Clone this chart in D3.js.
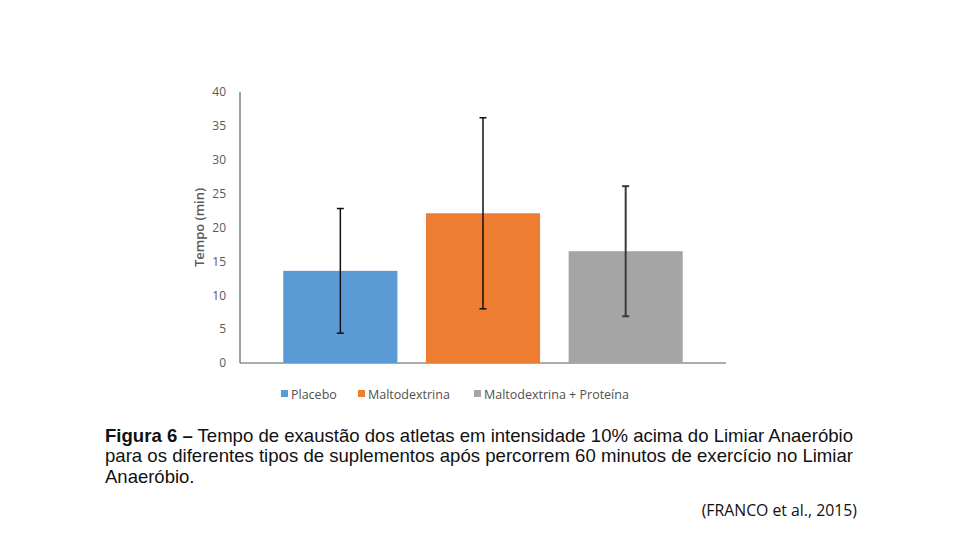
<!DOCTYPE html>
<html><head><meta charset="utf-8">
<script src="https://cdn.jsdelivr.net/npm/d3@7"></script>
<style>body{margin:0;background:#fff}svg{display:block}</style>
</head><body>
<script>
const categories = ["Placebo", "Maltodextrina", "Maltodextrina + Proteína"];
const means = [13.6, 22.1, 16.5];
const sds = [9.2, 14.1, 9.6];
const colors = ["#5B9BD5", "#ED7D31", "#A5A5A5"];
const yTicks = [0, 5, 10, 15, 20, 25, 30, 35, 40];
const yTitle = "Tempo (min)";
const captionLines = [
  ["Figura 6 \u2013", " Tempo de exaustão dos atletas em intensidade 10% acima do Limiar Anaeróbio"],
  ["", "para os diferentes tipos de suplementos após percorrem 60 minutos de exercício no Limiar"],
  ["", "Anaeróbio."]
];
const source = "(FRANCO et al., 2015)";

const svg = d3.select("body").append("svg").attr("width", 960).attr("height", 540);
const y = d3.scaleLinear().domain([0, 40]).range([363, 92]);
const x = d3.scaleBand().domain(categories).range([269, 697]).paddingInner(0.2).paddingOuter(0.1);

// axes lines
svg.append("line").attr("x1", 240).attr("x2", 240).attr("y1", y(40)).attr("y2", y(0)).attr("stroke", "#404040").attr("stroke-width", 1);
svg.append("line").attr("x1", 240).attr("x2", 726).attr("y1", y(0)).attr("y2", y(0)).attr("stroke", "#595959").attr("stroke-width", 1.2);

const yAxis = d3.axisLeft(y).tickValues(yTicks).tickSize(0).tickPadding(14);
const ga = svg.append("g").attr("transform", "translate(240,0)").call(yAxis);
ga.select(".domain").remove();
ga.selectAll("text").attr("fill", "#595959").style("font-family", "'Open Sans', sans-serif").style("font-size", "12px");

svg.append("text").attr("transform", `translate(204,${y(20)}) rotate(-90)`).attr("text-anchor", "middle")
  .attr("fill", "#595959").style("font-family", "'Open Sans', sans-serif").style("font-size", "13px").style("font-weight", "600")
  .text(yTitle);

// bars
svg.selectAll("rect.bar").data(categories).join("rect").attr("class", "bar")
  .attr("x", d => x(d)).attr("width", x.bandwidth())
  .attr("y", (d, i) => y(means[i])).attr("height", (d, i) => y(0) - y(means[i]))
  .attr("fill", (d, i) => colors[i]);

// error bars
const eb = svg.selectAll("g.err").data(categories).join("g").attr("class", "err")
  .attr("stroke", (d, i) => i === 2 ? "#3a3a3a" : "#111").attr("stroke-width", (d, i) => i === 2 ? 2 : 1.5);
eb.append("line").attr("x1", d => x(d) + x.bandwidth() / 2).attr("x2", d => x(d) + x.bandwidth() / 2)
  .attr("y1", (d, i) => y(means[i] + sds[i])).attr("y2", (d, i) => y(means[i] - sds[i]));
[1, -1].forEach(s => {
  eb.append("line").attr("x1", d => x(d) + x.bandwidth() / 2 - 3.5).attr("x2", d => x(d) + x.bandwidth() / 2 + 3.5)
    .attr("y1", (d, i) => y(means[i] + s * sds[i])).attr("y2", (d, i) => y(means[i] + s * sds[i]));
});

// legend
const legX = [281, 358, 474];
const lg = svg.selectAll("g.leg").data(categories).join("g").attr("class", "leg")
  .attr("transform", (d, i) => `translate(${legX[i]},395)`);
lg.append("rect").attr("x", 0).attr("y", -5).attr("width", 7).attr("height", 7).attr("fill", (d, i) => colors[i]);
lg.append("text").attr("x", 10).attr("y", 0).attr("dy", "0.35em").attr("fill", "#505050")
  .style("font-family", "'Open Sans', sans-serif").style("font-size", "12.5px").text(d => d);

// caption
const capY = [442, 462, 483];
const capLen = [748, 748, null];
captionLines.forEach((ln, i) => {
  const t = svg.append("text").attr("x", 105).attr("y", capY[i]).attr("fill", "#111")
    .style("font-family", "'Liberation Sans Narrow', 'Arial Narrow', sans-serif").style("font-size", "18.5px");
  if (capLen[i]) t.attr("textLength", capLen[i]).attr("lengthAdjust", "spacingAndGlyphs");
  if (ln[0]) t.append("tspan").style("font-weight", "bold").text(ln[0]);
  t.append("tspan").text(ln[1]);
});
svg.append("text").attr("x", 857).attr("y", 516).attr("text-anchor", "end").attr("fill", "#111")
  .style("font-family", "'Liberation Sans Narrow', 'Open Sans', sans-serif").style("font-size", "15.8px").text(source);
</script>
</body></html>
